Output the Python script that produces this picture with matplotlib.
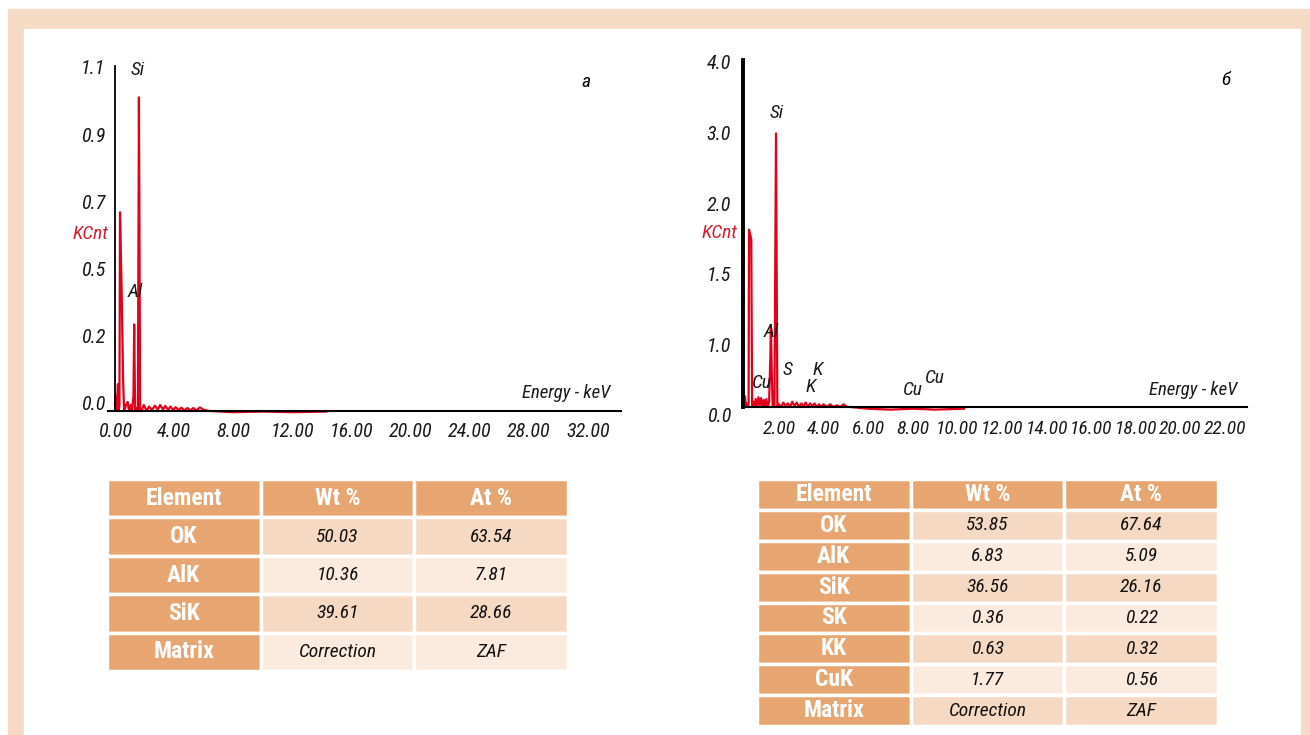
import matplotlib
matplotlib.use('Agg')
import matplotlib.pyplot as plt
from matplotlib import font_manager
from matplotlib.patches import Rectangle

# pick a condensed sans face if one is installed
_narrow = {}
for f in font_manager.fontManager.ttflist:
    if ('Narrow' in f.name or 'Condensed' in f.name
            or f.stretch in ('condensed', 'semi-condensed')):
        _narrow.setdefault(f.name, f.stretch)
FONT, STRETCH = 'Liberation Sans', 'normal'
for fam in ('Liberation Sans Narrow', 'Arial Narrow', 'Roboto Condensed',
            'Open Sans Condensed', 'Noto Sans', 'DejaVu Sans', 'Roboto',
            'Open Sans', 'Noto Sans Condensed', 'DejaVu Sans Condensed'):
    if fam in _narrow:
        FONT, STRETCH = fam, _narrow[fam]
        break
plt.rcParams['font.family'] = [FONT, 'DejaVu Sans']
plt.rcParams['font.stretch'] = STRETCH
NARROW = STRETCH != 'normal' or 'Narrow' in FONT or 'Condensed' in FONT

W, H = 1310, 735
PEACH = '#F5DBC4'
ORANGE = '#E6A571'
ROW_DARK = '#F5D9C3'
ROW_LIGHT = '#FBEBDF'
RED = '#E2001A'
LABEL_RED = '#D0202C'

# --- spectrum (а): energy in keV, intensity in KCnt ---
energy_a = [0.00, 0.05, 0.10, 0.15, 0.20, 0.25, 0.30,
            0.34, 0.45, 0.55, 0.62,
            0.75, 0.85, 0.95, 1.05, 1.15,
            1.25, 1.30, 1.36, 1.45, 1.55,
            1.62, 1.70, 1.80,
            1.95, 2.15, 2.30, 2.50, 2.70, 2.90,
            3.05, 3.25, 3.40, 3.60, 3.75, 3.95,
            4.10, 4.30, 4.50, 4.70, 4.90, 5.10,
            5.30, 5.50, 5.75, 6.00, 6.40,
            8.00, 10.00, 12.00, 14.30]
kcnt_a = [0.02, 0.05, 0.00, 0.04, 0.09, 0.00, 0.02,
          0.665, 0.40, 0.10, 0.00,
          0.02, 0.03, 0.00, 0.02, 0.00,
          0.05, 0.29, 0.00, 0.01, 0.00,
          1.05, 0.00, 0.00,
          0.02, 0.00, 0.015, 0.003, 0.018, 0.004,
          0.02, 0.005, 0.017, 0.004, 0.015, 0.003,
          0.013, 0.003, 0.011, 0.002, 0.010, 0.002,
          0.010, 0.002, 0.012, 0.004, 0.000,
          -0.004, -0.002, -0.004, -0.002]

# --- spectrum (б) ---
energy_b = [0.39, 0.42, 0.45, 0.48, 0.52, 0.56, 0.60, 0.64, 0.66, 0.76, 0.80,
            0.84, 0.90, 0.96, 1.02, 1.08, 1.14, 1.20, 1.26, 1.32, 1.38, 1.44, 1.50,
            1.56, 1.62, 1.64, 1.68, 1.72, 1.80, 1.87, 1.93, 2.00,
            2.10, 2.20, 2.30, 2.40, 2.50, 2.60, 2.70, 2.80, 2.90, 3.00,
            3.10, 3.20, 3.30, 3.40, 3.50, 3.60, 3.70, 3.80, 3.90, 4.00,
            4.15, 4.30, 4.45, 4.60, 4.75, 4.90, 5.05, 5.20,
            6.00, 7.00, 8.00, 9.00, 10.30]
kcnt_b = [0.05, 0.19, 0.02, 0.12, 0.00, 0.04, 0.00, 0.02, 2.01, 1.90, 0.00,
          0.06, 0.00, 0.09, 0.01, 0.11, 0.02, 0.10, 0.00, 0.08, 0.01, 0.09, 0.00,
          0.05, 0.60, 0.93, 0.40, 0.00, 0.00, 3.10, 0.00, 0.03,
          0.00, 0.05, 0.01, 0.04, 0.00, 0.06, 0.01, 0.05, 0.00, 0.04,
          0.01, 0.05, 0.00, 0.04, 0.01, 0.04, 0.00, 0.03, 0.00, 0.03,
          0.00, 0.03, 0.00, 0.02, 0.00, 0.03, 0.00, 0.00,
          -0.02, -0.03, -0.02, -0.03, -0.02]

# axis ticks
xticks_a = [0, 4, 8, 12, 16, 20, 24, 28, 32]
xticks_b = [2, 4, 6, 8, 10, 12, 14, 16, 18, 20, 22]
yticks_a = [0.0, 0.225, 0.45, 0.675, 0.9, 1.125]
ylabels_a = ['0.0', '0.2', '0.5', '0.7', '0.9', '1.1']
yticks_b = [0.0, 0.8, 1.6, 2.4, 3.2, 4.0]
ylabels_b = ['0.0', '1.0', '1.5', '2.0', '3.0', '4.0']

# peak labels: (text, energy, height)
peaks_a = [('Si', 1.56, 1.14), ('Al', 1.35, 0.40)]
peaks_b = [('Si', 1.91, 3.33), ('Al', 1.64, 0.85), ('S', 2.40, 0.42),
           ('K', 3.74, 0.42), ('K', 3.43, 0.23), ('Cu', 1.24, 0.27),
           ('Cu', 8.01, 0.19), ('Cu', 9.00, 0.33)]

# quantification tables
tab_cols = ['Element', 'Wt %', 'At %']
elements_a = ['OK', 'AlK', 'SiK']
wt_a = [50.03, 10.36, 39.61]
at_a = [63.54, 7.81, 28.66]
elements_b = ['OK', 'AlK', 'SiK', 'SK', 'KK', 'CuK']
wt_b = [53.85, 6.83, 36.56, 0.36, 0.63, 1.77]
at_b = [67.64, 5.09, 26.16, 0.22, 0.32, 0.56]
matrix_row = ['Matrix', 'Correction', 'ZAF']

# wide fallback face needs smaller text to keep the labels apart
FS = 1.0 if NARROW else 0.86


def px_box(l, t, r, b):
    return [l / W, 1 - b / H, (r - l) / W, (b - t) / H]


fig = plt.figure(figsize=(W / 100, H / 100), dpi=100)
fig.patch.set_facecolor('white')
fig.patches.append(Rectangle((8 / W, 0), (W - 8) / W, (H - 9) / H,
                             transform=fig.transFigure, color=PEACH, zorder=-3))
fig.patches.append(Rectangle((24 / W, 0), (1300 - 24) / W, (H - 29) / H,
                             transform=fig.transFigure, color='white', zorder=-2))


def spectrum(box, energy, kcnt, xlim, ylim, ytop, xticks, yticks, ylabels,
             yshift, left_lw, ypad, xpad, xfs):
    ax = fig.add_axes(px_box(*box))
    ax.patch.set_alpha(0)
    ax.plot(energy, kcnt, color=RED, lw=1.6, zorder=2, clip_on=False)
    ax.set_xlim(*xlim)
    ax.set_ylim(*ylim)
    for s in ('top', 'right'):
        ax.spines[s].set_visible(False)
    ax.spines['bottom'].set_position(('data', 0))
    ax.spines['bottom'].set_linewidth(1.5)
    ax.spines['bottom'].set_zorder(3)
    if xlim[0] < 0:
        ax.spines['left'].set_position(('data', 0))
    ax.spines['left'].set_bounds(0, ytop)
    ax.spines['left'].set_linewidth(left_lw)
    ax.set_xticks(xticks, labels=['%.2f' % t for t in xticks],
                  fontsize=xfs, fontstyle='italic', color='#1a1a1a')
    ax.set_yticks([t + yshift for t in yticks], labels=ylabels,
                  fontsize=14.5 * FS, fontstyle='italic', color='#1a1a1a')
    ax.tick_params(axis='y', length=0, pad=ypad)
    ax.tick_params(axis='x', length=0, pad=xpad)
    return ax


ax_a = spectrum((107.6, 61.5, 620.5, 455.8), energy_a, kcnt_a,
                (-0.5, 34.2), (-0.15, 1.17), 1.155, xticks_a, yticks_a,
                ylabels_a, 0.027, 1.3, 7, 8, 14.5 * FS)
ax_b = spectrum((743, 49.6, 1247.2, 420.2), energy_b, kcnt_b,
                (0.39, 23.0), (-0.15, 4.05), 3.93, xticks_b, yticks_b,
                ylabels_b, -0.09, 2.8, 8.5, 9.5, 14 if NARROW else 11.5)

for ax, peaks in ((ax_a, peaks_a), (ax_b, peaks_b)):
    for name, e, y in peaks:
        ax.text(e, y, name, fontsize=14 * FS, fontstyle='italic',
                ha='center', va='center', color='#1a1a1a', zorder=4)

ax_a.text(-1.69, 0.593, 'KCnt', color=LABEL_RED, fontsize=14 * FS,
          fontstyle='italic', ha='center', va='center')
ax_b.text(-0.65, 1.97, 'KCnt', color=LABEL_RED, fontsize=14 * FS,
          fontstyle='italic', ha='center', va='center')
ax_a.text(33.5, 0.06, 'Energy - keV', fontsize=13.5 * FS, fontstyle='italic',
          ha='right', va='center', color='#1a1a1a')
ax_b.text(22.58, 0.19, 'Energy - keV', fontsize=13.5 * FS, fontstyle='italic',
          ha='right', va='center', color='#1a1a1a')
ax_a.text(31.9, 1.10, 'а', fontsize=14, fontstyle='italic',
          ha='center', va='center')
ax_b.text(22.05, 3.71, 'б', fontsize=14, fontstyle='italic',
          ha='center', va='center')


def table(box, elements, wt, at):
    rows = [[el, '%.2f' % w, '%.2f' % a] for el, w, a in zip(elements, wt, at)]
    rows.append(matrix_row)
    ax = fig.add_axes(px_box(*box))
    ax.set_axis_off()
    tbl = ax.table(cellText=rows, colLabels=tab_cols, cellLoc='center',
                   bbox=[0, 0, 1, 1])
    tbl.auto_set_font_size(False)
    for (r, c), cell in tbl.get_celld().items():
        cell.set_edgecolor('white')
        cell.set_linewidth(2.5)
        txt = cell.get_text()
        if r == 0 or c == 0:
            cell.set_facecolor(ORANGE)
            txt.set_color('white')
            txt.set_fontsize(17 if NARROW else 15)
            txt.set_fontweight('bold')
        else:
            cell.set_facecolor(ROW_DARK if r % 2 == 1 else ROW_LIGHT)
            txt.set_color('#111111')
            txt.set_fontsize(14 if NARROW else 13.5)
            txt.set_fontstyle('italic')
    return ax


table((107, 479, 568, 671), elements_a, wt_a, at_a)
table((757, 479, 1218, 726), elements_b, wt_b, at_b)

fig.savefig('out.png', dpi=100)
